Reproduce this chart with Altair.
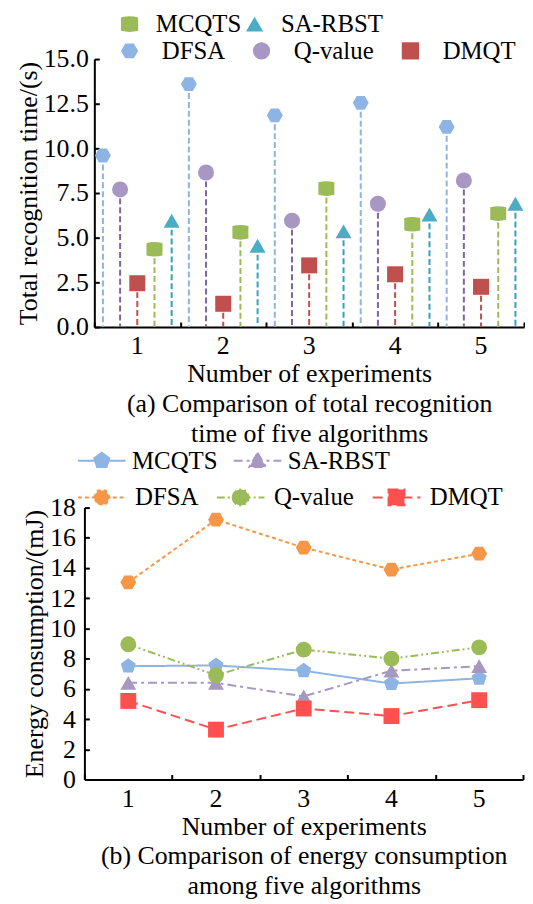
import altair as alt
import pandas as pd

# ---------------- data ----------------
experiments = ["1", "2", "3", "4", "5"]
algorithms = ["DFSA", "Q-value", "DMQT", "MCQTS", "SA-RBST"]

# (a) total recognition time (s)
time_dfsa = [9.6, 13.6, 11.85, 12.55, 11.2]
time_qvalue = [7.7, 8.65, 5.95, 6.9, 8.2]
time_dmqt = [2.45, 1.3, 3.45, 2.95, 2.25]
time_mcqts = [4.35, 5.3, 7.75, 5.75, 6.35]
time_sarbst = [5.95, 4.55, 5.35, 6.3, 6.9]

# (b) energy consumption (mJ)
energy_mcqts = [7.5, 7.55, 7.2, 6.35, 6.7]
energy_sarbst = [6.4, 6.4, 5.5, 7.2, 7.5]
energy_dfsa = [13.05, 17.2, 15.35, 13.9, 14.95]
energy_qvalue = [8.95, 6.9, 8.6, 8.0, 8.75]
energy_dmqt = [5.2, 3.3, 4.7, 4.2, 5.25]

time_series = {"DFSA": time_dfsa, "Q-value": time_qvalue, "DMQT": time_dmqt,
               "MCQTS": time_mcqts, "SA-RBST": time_sarbst}
energy_series = {"MCQTS": energy_mcqts, "SA-RBST": energy_sarbst, "DFSA": energy_dfsa,
                 "Q-value": energy_qvalue, "DMQT": energy_dmqt}

df_a = pd.DataFrame([{"exp": e, "alg": a, "v": vals[i]}
                     for a, vals in time_series.items() for i, e in enumerate(experiments)])
df_b = pd.DataFrame([{"exp": e, "alg": a, "v": vals[i]}
                     for a, vals in energy_series.items() for i, e in enumerate(experiments)])

# ---------------- styles ----------------
FONT = "Liberation Serif"
FS = 26
LFS = 25
HEX = "M-1,0L-0.5,-0.866L0.5,-0.866L1,0L0.5,0.866L-0.5,0.866Z"
BARREL = "M-1,-0.78Q0,-1.05,1,-0.78L1,0.78Q0,1.05,-1,0.78Z"
PENT = "M0,-1L0.951,-0.309L0.588,0.809L-0.588,0.809L-0.951,-0.309Z"
CIRC = "M-1,0A1,1,0,1,1,1,0A1,1,0,1,1,-1,0Z"
SQR = "M-1,-1L1,-1L1,1L-1,1Z"
TRI = "M0,-1L1.05,0.8L-1.05,0.8Z"

mk_col_a = {"DFSA": "#8DB4E2", "Q-value": "#A797C2", "DMQT": "#C0504D",
            "MCQTS": "#9BBB59", "SA-RBST": "#4BACC6"}
stem_col_a = {"DFSA": "#8DB4E2", "Q-value": "#7F64A2", "DMQT": "#C0504D",
              "MCQTS": "#9BBB59", "SA-RBST": "#31A2BF"}
shape_a = {"DFSA": HEX, "Q-value": "circle", "DMQT": "square",
           "MCQTS": BARREL, "SA-RBST": "triangle-up"}

col_b = {"MCQTS": "#8DB4E2", "SA-RBST": "#A798C2", "DFSA": "#F79646",
         "Q-value": "#9BBB59", "DMQT": "#FF5050"}
shape_b = {"MCQTS": PENT, "SA-RBST": "triangle-up", "DFSA": HEX,
           "Q-value": "circle", "DMQT": "square"}
legshape_b = {"MCQTS": PENT, "SA-RBST": TRI, "DFSA": HEX, "Q-value": CIRC, "DMQT": SQR}
dash_b = {"MCQTS": [1, 0], "SA-RBST": [9, 4, 3, 4], "DFSA": [4, 3],
          "Q-value": [8, 3, 2, 3, 2, 3], "DMQT": [10, 5]}

W_A, H_A = 443, 270
W_B, H_B = 442, 274


def sc(mapping, keys):
    return alt.Scale(domain=keys, range=[mapping[k] for k in keys])


def main_x_axis(title):
    return alt.Axis(orient="bottom", title=title, ticks=False, domain=True, domainColor="black",
                    domainWidth=2, labelAngle=0, labelFont=FONT, labelFontSize=FS, labelColor="black",
                    labelPadding=6, titleFont=FONT, titleFontSize=FS, titleFontWeight="normal",
                    titleColor="black", titleLineHeight=30, titlePadding=2, grid=False)


def tick_x_axis():
    return alt.Axis(orient="bottom", offset=-5, domain=False, labels=False, ticks=True, tickSize=5,
                    tickWidth=2, tickColor="black", tickBand="extent", title=None, grid=False)


def main_y_axis(title, values, fmt, offset, pad):
    return alt.Axis(orient="left", offset=offset, values=values, format=fmt, title=title, ticks=False,
                    domain=True, domainColor="black", domainWidth=2, labelFont=FONT, labelFontSize=FS,
                    labelColor="black", labelPadding=pad, titleFont=FONT, titleFontSize=FS,
                    titleFontWeight="normal", titleColor="black", titlePadding=2, grid=False)


def tick_y_axis(values, offset):
    return alt.Axis(orient="left", offset=offset, values=values, domain=False, labels=False, ticks=True,
                    tickSize=5, tickWidth=2, tickColor="black", title=None, grid=False)


def legend(x, y, label_offset, col_pad, size, stroke_w=0):
    return alt.Legend(orient="none", legendX=x, legendY=y, direction="horizontal", title=None,
                      labelFont=FONT, labelFontSize=LFS, labelColor="black", labelOffset=label_offset,
                      columnPadding=col_pad, symbolSize=size, symbolStrokeWidth=stroke_w,
                      symbolOpacity=1, padding=0, labelLimit=300)


# ---------------- (a) ----------------
yvals_a = [0, 2.5, 5, 7.5, 10, 12.5, 15]
xa_scale = alt.Scale(type="band", paddingInner=0, paddingOuter=0, range=[10, W_A])
ya_scale = alt.Scale(domain=[0, 15], nice=False)
xoff_scale = alt.Scale(domain=algorithms, paddingInner=0, paddingOuter=0)

stems = alt.Chart(df_a).mark_rule(strokeWidth=2, strokeDash=[6, 3]).encode(
    x=alt.X("exp:N", scale=xa_scale,
            axis=main_x_axis(["Number of experiments", "(a) Comparison of total recognition",
                              "time of five algorithms"])),
    xOffset=alt.XOffset("alg:N", scale=xoff_scale),
    y=alt.Y("v:Q", scale=ya_scale,
            axis=main_y_axis("Total recognition time/(s)", yvals_a, ".1f", -10, 6)),
    y2=alt.datum(0),
    color=alt.Color("alg:N", scale=sc(stem_col_a, algorithms), legend=None),
)

markers_a = alt.Chart(df_a).mark_point(filled=True, opacity=1, size=260).encode(
    x=alt.X("exp:N", scale=xa_scale, axis=tick_x_axis()),
    xOffset=alt.XOffset("alg:N", scale=xoff_scale),
    y=alt.Y("v:Q", scale=ya_scale, axis=tick_y_axis(yvals_a, -15)),
    color=alt.Color("alg:N", scale=sc(mk_col_a, algorithms), legend=None),
    shape=alt.Shape("alg:N", scale=sc(shape_a, algorithms), legend=None),
)


def leg_layer_a(keys, lg):
    return alt.Chart(df_a).transform_filter("false").mark_point(filled=True, opacity=1).encode(
        color=alt.Color("alg:N", scale=sc(mk_col_a, keys), legend=lg),
        shape=alt.Shape("alg:N", scale=sc(shape_a, keys), legend=lg),
    )


leg_a1 = leg_layer_a(["MCQTS", "SA-RBST"], legend(33, -48, 14, 0, 300))
leg_a2 = leg_layer_a(["DFSA", "Q-value", "DMQT"], legend(33, -21, 20, 24, 300))

chart_a = alt.layer(stems, markers_a, leg_a1, leg_a2).resolve_scale(
    color="independent", shape="independent"
).resolve_axis(x="independent", y="independent").properties(width=W_A, height=H_A)

# ---------------- (b) ----------------
yvals_b = list(range(0, 19, 2))
xb_scale = alt.Scale(type="band", paddingInner=0, paddingOuter=0)
yb_scale = alt.Scale(domain=[0, 18], nice=False)
order_b = ["MCQTS", "SA-RBST", "DFSA", "Q-value", "DMQT"]

lines_b = alt.Chart(df_b).mark_line(strokeWidth=2).encode(
    x=alt.X("exp:N", scale=xb_scale, bandPosition=0.5,
            axis=main_x_axis(["Number of experiments", "(b) Comparison of energy consumption",
                              "among five algorithms"])),
    y=alt.Y("v:Q", scale=yb_scale, axis=main_y_axis("Energy consumption/(mJ)", yvals_b, "d", 0, 9)),
    color=alt.Color("alg:N", scale=sc(col_b, order_b), legend=None),
    strokeDash=alt.StrokeDash("alg:N", scale=sc(dash_b, order_b), legend=None),
)

markers_b = alt.Chart(df_b).mark_point(filled=True, opacity=1, size=256).encode(
    x=alt.X("exp:N", scale=xb_scale, bandPosition=0.5, axis=tick_x_axis()),
    y=alt.Y("v:Q", scale=yb_scale, axis=tick_y_axis(yvals_b, -5)),
    color=alt.Color("alg:N", scale=sc(col_b, order_b), legend=None),
    shape=alt.Shape("alg:N", scale=sc(shape_b, order_b), legend=None),
)

legline_b = {k: "M-3,0L3,0" + v for k, v in legshape_b.items()}


def leg_layer_b(keys, lg):
    return alt.Chart(df_b).transform_filter("false").mark_point(filled=True, opacity=1).encode(
        fill=alt.Fill("alg:N", scale=sc(col_b, keys), legend=lg),
        stroke=alt.Stroke("alg:N", scale=sc(col_b, keys), legend=lg),
        shape=alt.Shape("alg:N", scale=sc(legline_b, keys), legend=lg),
        strokeDash=alt.StrokeDash("alg:N", scale=sc(dash_b, keys), legend=lg),
    )


leg_b1 = leg_layer_b(["MCQTS", "SA-RBST"], legend(5, -60, 18, 11, 256, 2))
leg_b2 = leg_layer_b(["DFSA", "Q-value", "DMQT"], legend(5, -23, 21, 14, 256, 2))

chart_b = alt.layer(lines_b, markers_b, leg_b1, leg_b2).resolve_scale(
    color="independent", shape="independent", fill="independent", stroke="independent",
    strokeDash="independent"
).resolve_axis(x="independent", y="independent").properties(width=W_B, height=H_B)

chart = alt.vconcat(chart_a, chart_b, spacing=2).configure_view(stroke=None).configure_legend(
    labelFont=FONT, labelFontSize=LFS, labelColor="black", labelLimit=300
).configure_axis(labelFont=FONT, titleFont=FONT).properties(
    padding={"left": 7, "top": 0, "right": 0, "bottom": 0}
)

chart.save("out.html", embed_options={"renderer": "svg", "actions": False})
